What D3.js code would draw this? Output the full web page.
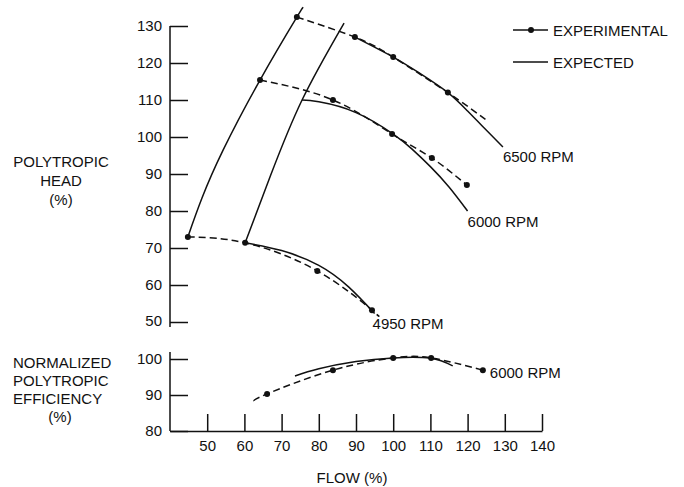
<!DOCTYPE html>
<html>
<head>
<meta charset="utf-8">
<script src="https://cdn.jsdelivr.net/npm/d3@7"></script>
<style>
  body { margin: 0; background: #fff; }
  svg text { font-family: "Liberation Sans", Arial, Helvetica, sans-serif; font-size: 15px; fill: #111; }
</style>
</head>
<body>
<svg id="chart" width="684" height="487"></svg>
<script>
// ticks
const flowTicks = [50, 60, 70, 80, 90, 100, 110, 120, 130, 140];
const headTicks = [50, 60, 70, 80, 90, 100, 110, 120, 130];
const effTicks = [80, 90, 100];

// [flow %, head %] surge lines
const surgeExperimental = [[44.8, 73.0], [48.6, 83.5], [54.3, 96.5], [64.2, 115.4], [74.1, 132.4], [75.5, 134.6]];
const surgeExpected = [[60.2, 71.4], [67.0, 89.5], [75.5, 110.0], [86.8, 130.8]];

// speed lines, experimental points (dashed) and expected (solid)
const head6500Exp = [[74.1, 132.4], [89.7, 127.0], [100.0, 121.6], [114.7, 112.0]];
const head6500ExpTail = [125.0, 104.6];
const head6500Pred = [[89.7, 127.0], [100, 121.6], [107, 117.3], [114.7, 112.0], [120, 107.0], [125, 101.9], [129.5, 97.3]];

const head6000Exp = [[64.2, 115.4], [83.8, 110.0], [99.7, 100.8], [110.4, 94.3], [119.8, 87.0]];
const head6000Pred = [[75.5, 110.0], [80, 109.5], [90, 106.6], [100, 100.8], [105, 96.8], [110, 92.0], [115, 86.5], [120, 80.0]];

const head4950Exp = [[44.8, 73.0], [60.2, 71.4], [79.6, 63.8], [94.3, 53.2]];
const head4950ExpTail = [95.6, 51.9];
const head4950Pred = [[60.2, 71.4], [70, 69.3], [80, 65.3], [88, 59.5], [95.0, 52.3]];

// [flow %, efficiency %]
const eff6000Exp = [[66.1, 90.3], [83.8, 96.9], [100, 100.3], [110.2, 100.3], [124.1, 96.9]];
const eff6000ExpLead = [62.6, 88.3];
const eff6000Pred = [[73.6, 95.3], [80, 97.3], [90, 99.3], [100, 100.3], [110, 100.2], [116, 98.1]];

const svg = d3.select("#chart");
const ink = "#111";

const x = d3.scaleLinear().domain([40, 140]).range([170, 542]);
const yHead = d3.scaleLinear().domain([50, 130]).range([322, 26]);
const yEff = d3.scaleLinear().domain([80, 100]).range([431, 359]);

// axes
const headAxis = svg.append("g")
  .attr("transform", "translate(" + x(40) + ",0)")
  .call(d3.axisRight(yHead).tickValues(headTicks).tickSize(18).tickSizeOuter(0));
const effAxis = svg.append("g")
  .attr("transform", "translate(" + x(40) + ",0)")
  .call(d3.axisRight(yEff).tickValues(effTicks).tickSize(18).tickSizeOuter(0));
[headAxis, effAxis].forEach(function(g) {
  g.select(".domain").remove();
  g.selectAll(".tick line").attr("stroke", ink).attr("stroke-width", 1.5);
  g.selectAll(".tick text").attr("x", -8).attr("text-anchor", "end")
    .attr("font-size", null).attr("font-family", null).attr("fill", ink);
});
headAxis.selectAll(".tick").filter(function(d) { return d === 50; }).select("text").attr("dy", "0.2em");
svg.append("line")
  .attr("x1", x(40)).attr("x2", x(40))
  .attr("y1", yHead(130)).attr("y2", yHead(50) + 5)
  .attr("stroke", ink).attr("stroke-width", 1.5);
svg.append("line")
  .attr("x1", x(40)).attr("x2", x(40))
  .attr("y1", yEff(100) - 7).attr("y2", yEff(80))
  .attr("stroke", ink).attr("stroke-width", 1.5);

const flowAxis = svg.append("g")
  .attr("transform", "translate(0," + yEff(80) + ")")
  .call(d3.axisBottom(x).tickValues(flowTicks).tickSize(-17).tickSizeOuter(0).tickPadding(9));
flowAxis.select(".domain").attr("stroke", ink).attr("stroke-width", 1.5);
flowAxis.selectAll(".tick line").attr("stroke", ink).attr("stroke-width", 1.5);
flowAxis.selectAll(".tick text").attr("font-size", null).attr("font-family", null).attr("fill", ink);

// lines
const line = function(yScale) {
  return d3.line()
    .x(function(d) { return x(d[0]); })
    .y(function(d) { return yScale(d[1]); })
    .curve(d3.curveNatural);
};

function solid(data, yScale) {
  svg.append("path").datum(data)
    .attr("d", line(yScale))
    .attr("fill", "none").attr("stroke", ink).attr("stroke-width", 1.5);
}
function dashed(data, yScale) {
  svg.append("path").datum(data)
    .attr("d", line(yScale))
    .attr("fill", "none").attr("stroke", ink).attr("stroke-width", 1.5)
    .attr("stroke-dasharray", "7,4");
}
function dots(data, yScale) {
  svg.append("g").selectAll("circle")
    .data(data)
    .enter().append("circle")
      .attr("cx", function(d) { return x(d[0]); })
      .attr("cy", function(d) { return yScale(d[1]); })
      .attr("r", 3)
      .attr("fill", ink);
}

solid(surgeExperimental, yHead);
solid(surgeExpected, yHead);

dashed(head6500Exp.concat([head6500ExpTail]), yHead);
solid(head6500Pred, yHead);
dots(head6500Exp, yHead);

dashed(head6000Exp, yHead);
solid(head6000Pred, yHead);
dots(head6000Exp, yHead);

dashed(head4950Exp.concat([head4950ExpTail]), yHead);
solid(head4950Pred, yHead);
dots(head4950Exp, yHead);

dashed([eff6000ExpLead].concat(eff6000Exp), yEff);
solid(eff6000Pred, yEff);
dots(eff6000Exp, yEff);

// speed labels
function label(pt, yScale, dx, dy, txt) {
  svg.append("text")
    .attr("x", x(pt[0]) + dx)
    .attr("y", yScale(pt[1]) + dy)
    .attr("dy", "0.35em")
    .text(txt);
}
label(head6500Pred[head6500Pred.length - 1], yHead, 0, 10, "6500 RPM");
label(head6000Pred[head6000Pred.length - 1], yHead, 0, 11, "6000 RPM");
label(head4950Pred[head4950Pred.length - 1], yHead, -2, 10, "4950 RPM");
label(eff6000Exp[eff6000Exp.length - 1], yEff, 7, 3, "6000 RPM");

// legend
const legend = svg.append("g").attr("transform", "translate(513,0)");
legend.append("line").attr("x1", 0).attr("x2", 35).attr("y1", 30).attr("y2", 30)
  .attr("stroke", ink).attr("stroke-width", 1.5);
legend.append("circle").attr("cx", 18).attr("cy", 30).attr("r", 3).attr("fill", ink);
legend.append("text").attr("x", 40).attr("y", 31).attr("dy", "0.35em").text("EXPERIMENTAL");
legend.append("line").attr("x1", 0).attr("x2", 35).attr("y1", 62).attr("y2", 62)
  .attr("stroke", ink).attr("stroke-width", 1.5);
legend.append("text").attr("x", 40).attr("y", 63).attr("dy", "0.35em").text("EXPECTED");

// axis titles
const headTitle = svg.append("text").attr("text-anchor", "middle");
["POLYTROPIC", "HEAD", "(%)"].forEach(function(t, i) {
  headTitle.append("tspan").attr("x", 61).attr("y", 167 + i * 19).text(t);
});
const effTitle = svg.append("text");
["NORMALIZED", "POLYTROPIC", "EFFICIENCY"].forEach(function(t, i) {
  effTitle.append("tspan").attr("x", 13).attr("y", 368 + i * 18).text(t);
});
effTitle.append("tspan").attr("x", 60).attr("y", 422).attr("text-anchor", "middle").text("(%)");

svg.append("text")
  .attr("x", 352).attr("y", 483)
  .attr("text-anchor", "middle")
  .text("FLOW (%)");
</script>
</body>
</html>
